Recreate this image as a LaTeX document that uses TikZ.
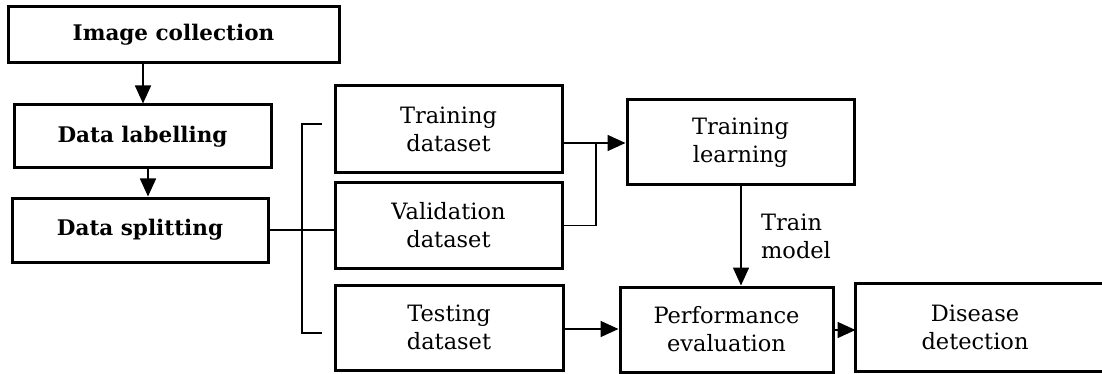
\documentclass[tikz,border=0pt]{standalone}
\usepackage{fontspec}
\setmainfont{DejaVu Serif}
\usetikzlibrary{arrows.meta}
\begin{document}
\begin{tikzpicture}[x=1pt,y=-1pt,
  box/.style={draw,line width=3pt,minimum width=#1,inner sep=0pt,align=center,
    font=\fontsize{22.5}{28}\selectfont},
  box/.default=228pt,
  bbox/.style={box=#1,font=\bfseries\fontsize{21.5}{28}\selectfont},
  conn/.style={line width=1.6pt},
  arr/.style={conn,-{Triangle[length=18pt,width=16pt]}}]
\useasboundingbox (0,0) rectangle (1102,374);
% left column
\node[bbox=331pt,minimum height=56pt] (ic) at (173.5,35) {Image collection};
\node[bbox=257pt,minimum height=63pt] (dl) at (142.5,136.5) {Data labelling};
\node[bbox=256pt,minimum height=64pt] (ds) at (140,230) {Data splitting};
% dataset boxes
\node[box=227pt,minimum height=87pt] (td) at (448.5,129.5) {Training\\dataset};
\node[box=227pt,minimum height=85pt] (vd) at (448.5,225.5) {Validation\\dataset};
\node[box=228pt,minimum height=85pt] (ted) at (449,327.5) {Testing\\dataset};
% right part
\node[box=227pt,minimum height=85pt] (tl) at (740.5,142.5) {Training\\learning};
\node[box=213pt,minimum height=85pt] (pe) at (726.5,329.5) {Performance\\evaluation};
% last box runs past the right edge of the page
\node[box=236pt,minimum height=85pt,draw=none] (dd) at (975,327.5) {Disease\\detection};
\draw[line width=3pt] (dd.north west) rectangle ([xshift=40pt]dd.south east);
% vertical flow on the left
\draw[arr] (143,0 |- ic.south) -- (143,0 |- dl.north);
\draw[arr] (148,0 |- dl.south) -- (148,0 |- ds.north);
% split bracket
\coordinate (bt) at (302,124);
\coordinate (bb) at (302,333);
\draw[conn] (ds.east) -- (vd.west |- ds.east);
\draw[conn] ([xshift=20pt]bt) -- (bt) -- (bb) -- ([xshift=20pt]bb);
% training and validation merge into training learning
\coordinate (mj) at (596,143);
\draw[conn] (td.east |- mj) -- (mj);
\draw[conn] (vd.east) -- (vd.east -| mj) -- (mj);
\draw[arr] (mj) -- (tl.west |- mj);
% train model
\draw[arr] (741,0 |- tl.south) -- (741,0 |- pe.north)
  node[pos=0.5,right=16pt,align=left,font=\fontsize{22.5}{28}\selectfont] (tm) {Train\\model};
% testing to evaluation to detection
\draw[arr] (ted.east |- 0,329) -- (pe.west |- 0,329);
\draw[arr] (pe.east |- 0,330) -- (dd.west |- 0,330);
\end{tikzpicture}
\end{document}
